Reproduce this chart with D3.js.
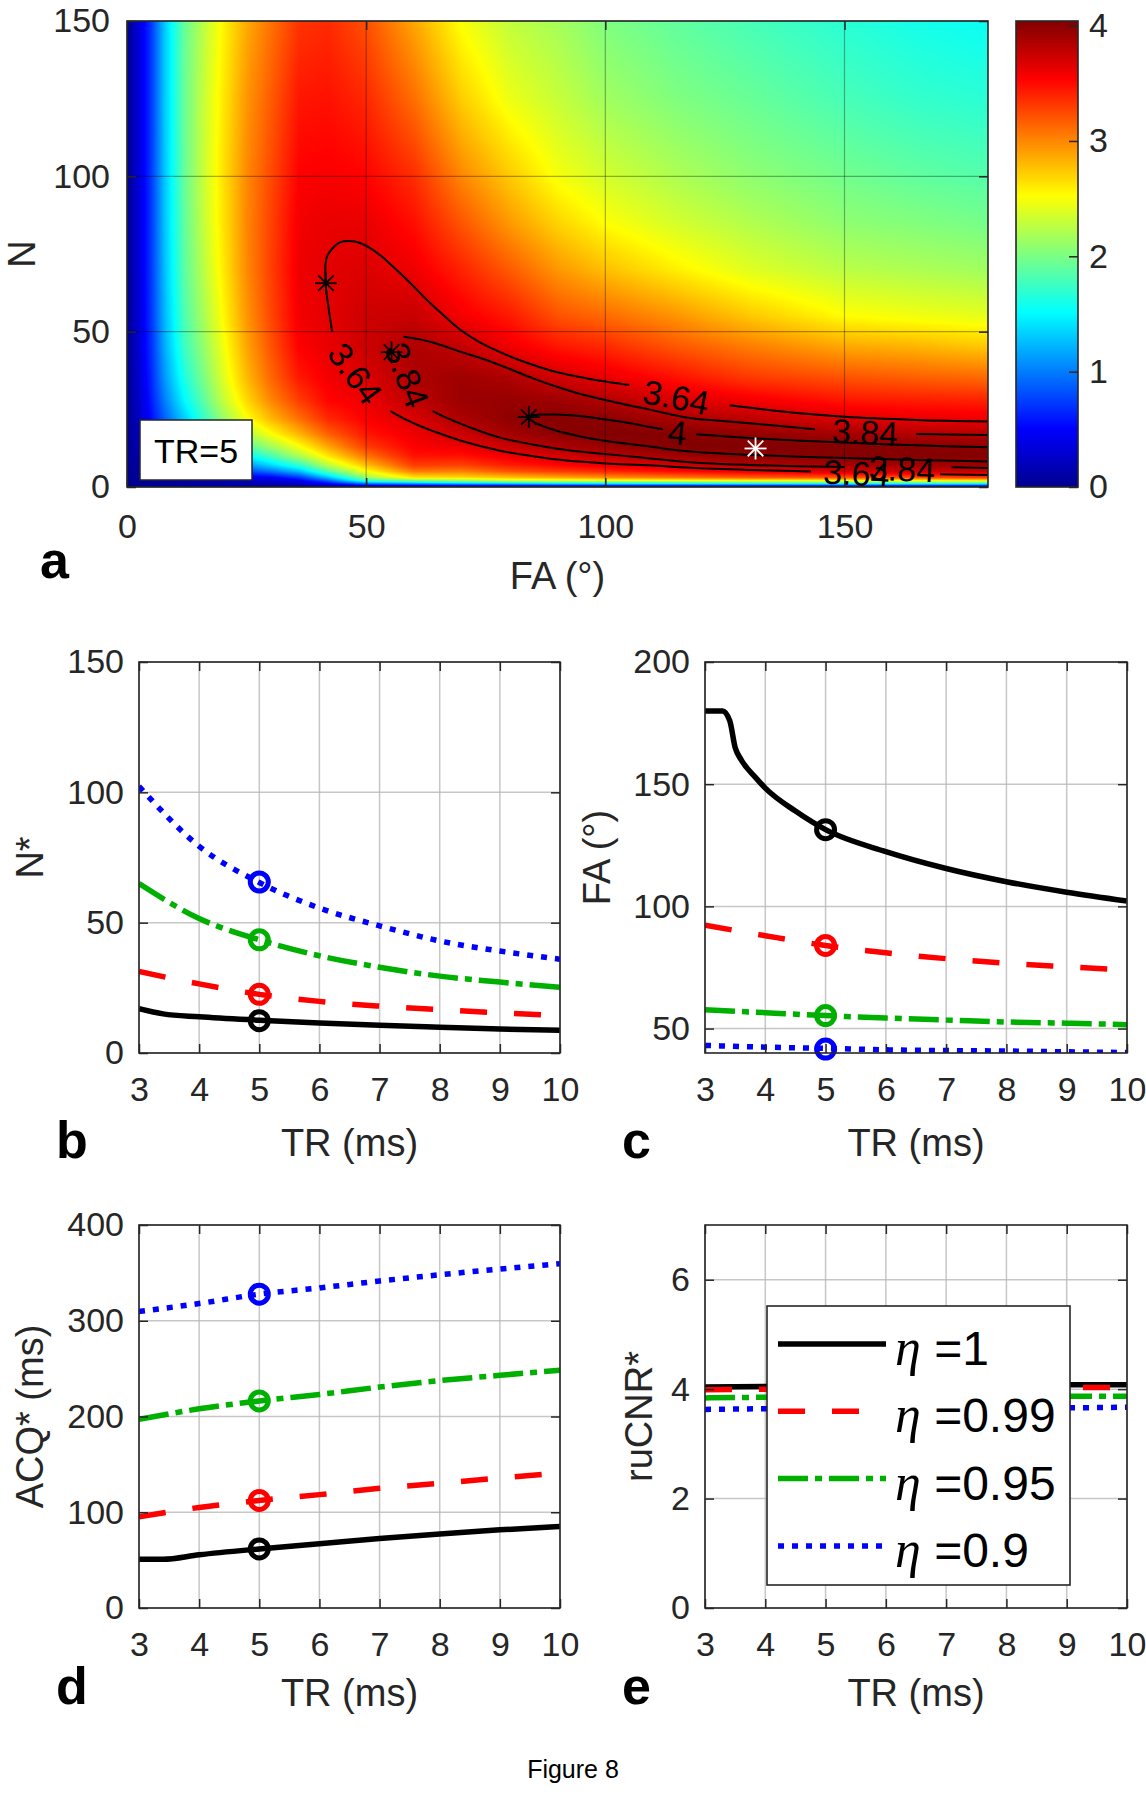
<!DOCTYPE html>
<html>
<head>
<meta charset="utf-8">
<script src="https://cdn.jsdelivr.net/npm/d3@7/dist/d3.min.js"></script>
<style>
html,body{margin:0;padding:0;background:#fff;}
svg{display:block;}
</style>
</head>
<body>
<svg id="fig" width="1146" height="1800" xmlns="http://www.w3.org/2000/svg"></svg>
<script>
// ================= DATA =================
const faGrid = [0,2,5,8,12,16,20,25,30,36,42,50,60,70,80,90,100,115,130,150,165,180];
const nGrid  = [0,1,2,3,5,7,10,13,17,22,28,35,45,55,70,85,100,125,150];
// one row per FA value of faGrid, entries follow nGrid
const cnrMap = [
  [0,0,0,0,0,0,0,0,0,0,0,0,0,0,0,0,0,0,0],
  [0,0.01,0.02,0.03,0.05,0.07,0.1,0.13,0.16,0.19,0.21,0.23,0.25,0.26,0.27,0.27,0.27,0.27,0.27],
  [0,0.03,0.06,0.09,0.15,0.22,0.3,0.38,0.46,0.54,0.6,0.64,0.68,0.7,0.71,0.71,0.71,0.71,0.71],
  [0,0.05,0.1,0.15,0.25,0.36,0.5,0.62,0.76,0.9,1.02,1.12,1.2,1.25,1.28,1.3,1.31,1.32,1.32],
  [0,0.07,0.14,0.2,0.38,0.55,0.75,0.93,1.12,1.32,1.5,1.63,1.75,1.82,1.88,1.9,1.92,1.93,1.92],
  [0,0.09,0.18,0.24,0.48,0.72,0.98,1.22,1.5,1.72,1.88,2.0,2.1,2.18,2.25,2.29,2.31,2.3,2.26],
  [0,0.11,0.22,0.3,0.6,0.9,1.25,1.55,1.85,2.1,2.28,2.38,2.46,2.53,2.59,2.62,2.63,2.6,2.55],
  [0,0.13,0.26,0.4,0.78,1.1,1.5,1.85,2.2,2.5,2.68,2.8,2.88,2.94,2.99,3.0,2.99,2.94,2.86],
  [0,0.15,0.3,0.45,0.95,1.35,1.8,2.15,2.5,2.8,3.0,3.12,3.2,3.25,3.28,3.27,3.24,3.17,3.08],
  [0,0.2,0.42,0.7,1.25,1.7,2.2,2.5,2.82,3.1,3.3,3.44,3.54,3.58,3.6,3.58,3.54,3.45,3.33],
  [0,0.45,0.85,1.25,1.85,2.25,2.62,2.88,3.15,3.38,3.52,3.58,3.62,3.64,3.645,3.62,3.56,3.47,3.37],
  [0,0.9,1.7,2.1,2.5,2.78,3.08,3.3,3.45,3.55,3.6,3.67,3.74,3.73,3.67,3.62,3.53,3.38,3.22],
  [0,1.05,1.95,2.6,3.05,3.3,3.47,3.55,3.6,3.68,3.8,3.86,3.86,3.76,3.6,3.48,3.36,3.1,2.88],
  [0,1.15,2.1,2.65,3.03,3.28,3.47,3.6,3.74,3.87,3.93,3.92,3.78,3.58,3.4,3.2,3.0,2.72,2.5],
  [0,1.2,2.3,2.75,3.2,3.42,3.6,3.75,3.9,3.98,3.95,3.87,3.6,3.44,3.18,2.93,2.74,2.45,2.28],
  [0,1.3,2.35,2.85,3.3,3.52,3.7,3.86,3.99,4.01,3.92,3.72,3.46,3.22,2.94,2.7,2.49,2.3,2.17],
  [0,1.35,2.4,2.95,3.38,3.6,3.8,3.94,4.03,3.99,3.84,3.63,3.38,3.12,2.78,2.52,2.35,2.15,2.02],
  [0,1.4,2.45,3.05,3.5,3.72,3.92,4.03,4.02,3.87,3.68,3.48,3.2,2.95,2.58,2.35,2.2,2.02,1.9],
  [0,1.45,2.5,3.15,3.6,3.84,3.99,4.04,3.97,3.8,3.58,3.32,3.05,2.75,2.4,2.22,2.08,1.93,1.8],
  [0,1.5,2.5,3.2,3.7,3.88,4.02,4.02,3.9,3.67,3.45,3.22,2.88,2.53,2.25,2.08,1.97,1.8,1.68],
  [0,1.5,2.5,3.22,3.74,3.9,4.02,4.01,3.84,3.62,3.42,3.17,2.83,2.47,2.2,2.03,1.9,1.72,1.6],
  [0,1.5,2.55,3.3,3.75,3.92,4.02,3.99,3.83,3.6,3.4,3.13,2.75,2.42,2.15,1.98,1.85,1.68,1.55]
];
const cnrMax = 4.04;
const mapXTicks = [0,50,100,150];
const mapYTicks = [0,50,100,150];
const colorbarTicks = [0,1,2,3,4];

// contour lines (FA, N), split where inline labels sit
const c364Loop  = [[42.9,49.9],[42.2,57],[41.5,66],[41.75,73.9],[43.1,77.1],[44.6,78.8],[46.6,79.2],[48.6,78.6],[50.5,77.2],[53,74.5],[55.7,70.8],[59,66],[62.7,60.2],[66,55.5],[69.6,50.7],[73.5,46.8],[78,43.4],[83,40.3],[88.4,37.6],[96,35],[105,32.8]];
const c364Right = [[126,26.3],[137,24.3],[150,22.6],[165,21.6],[180,21.1]];
const c364Lower = [[55.1,24.4],[58,21.9],[61,19.8],[64,18],[70,14.8],[78,11.7],[85,9.9],[91.9,8.5],[100,7.6],[109.3,7.0],[117.7,6.2],[130,5.5],[143,5.0]];
const c364LowerTail = [[170,4.1],[180,3.9]];
const c384Upper = [[57.8,48.4],[61,47.6],[64,46.5],[70,43.4],[74.5,41.2],[80,38],[85,34.9],[90,32.2],[95.4,29.7],[102,27.3],[109.3,24.9],[117.7,22.2],[125,21.2],[133,20.1],[143.8,18.6]];
const c384UpperTail = [[165,17.1],[172,16.9],[180,16.7]];
const c384Lower = [[63.9,24.4],[66,22.8],[68,21.5],[72,19],[78,15.9],[85,13.6],[91.9,11.9],[100,10.6],[107,9.6],[117.7,8.0],[130,7.1],[140,6.7],[150,6.4]];
const c384LowerTail = [[172.4,6.35],[180,6.1]];
const c4Loop = [[112,18.6],[109.3,19.3],[105,20.6],[99,22],[94,22.9],[90,23.3],[86.5,23.3],[84.5,23],[83.5,22.5],[84.5,21.4],[86,20.2],[90,18],[95,16.2],[100,14.9],[109.3,13],[117.7,11.4],[131,10.3],[148,9.4],[165,8.7],[180,8.2]];
const c4Tail = [[119,17],[130,15.8],[140,15],[149.8,14.3],[165,13.4],[180,12.8]];
const contourLabelText = ['3.64','3.64','3.64','3.84','3.84','3.84','4'];
const contourLabelFA   = [114.8, 47.7, 152.5, 58.5, 154.3, 162, 115];
const contourLabelN    = [28.9, 36.5, 4.4, 36, 17.6, 5.8, 17.5];
const contourLabelAngle= [11, 54, 3, 69, 3, 2, 6];

// optimum points at TR = 5 ms : order eta = 1, 0.99, 0.95, 0.9
const etaLabels = ['1','0.99','0.95','0.9'];
const optFA  = [131.4, 84, 55.3, 41.6];
const optN   = [12.4, 22.5, 43.4, 65.6];
const optACQ = [61.7, 112.3, 216.2, 327.8];
const optCNR = [4.06, 4.01, 3.85, 3.64];
const optTR = 5;

// Panels b-e vs TR
const trTicks = [3,4,5,6,7,8,9,10];
const trPts = [3,4,5,6,7,8,9,10];
const trKinkN   = [3,3.4,4,5,6,7,8,9,10];
const trKinkFA  = [3,3.29,3.41,3.5,3.6,3.84,4,4.5,5,6,7,8,9,10];

const nBlack = [17,15,13.9,12.6,11.5,10.6,9.9,9.2,8.7];
const nRed   = [31.3,26.5,22.5,19.8,18,16.6,15.4,14.3];
const nGreen = [65,51.6,43.4,37.3,32.9,29.5,27.2,25.2];
const nBlue  = [102.3,79.3,65.4,55.6,48.8,43,39.1,36];

const faBlack = [180,180,176,165,160,152.7,148.4,139,131.4,122.4,115.5,110.1,105.8,102.2];
const faRed   = [92.3,88,84,81,78.6,76.7,75.3,74];
const faGreen = [57.7,56.5,55.3,54.3,53.5,52.7,52.2,51.6];
const faBlue  = [43.1,42.4,41.9,41.3,41,40.8,40.5,40.2];

const acqBlack = [50.9,50.9,55.6,61.7,67.1,72.6,77.3,81.6,85.2];
const acqRed   = [95.3,105,112.3,118.4,125,130.3,135.7,141.2];
const acqGreen = [197,208,216.2,223,230.7,237.5,243,248.4];
const acqBlue  = [309.7,318,327.8,334.3,341.5,348,354,359.6];

const cnrBlack = [4.04,4.05,4.06,4.06,4.07,4.07,4.08,4.08];
const cnrRed   = [3.99,4.0,4.01,4.01,4.02,4.02,4.03,4.03];
const cnrGreen = [3.84,3.85,3.85,3.86,3.86,3.86,3.87,3.87];
const cnrBlue  = [3.63,3.64,3.64,3.65,3.65,3.66,3.66,3.67];

const nTicks = [0,50,100,150];
const faTicks = [50,100,150,200];
const acqTicks = [0,100,200,300,400];
const cnrTicks = [0,2,4,6];

// ================= LAYOUT / STYLE =================
const FONT = "'Liberation Sans', Arial, Helvetica, sans-serif";
const TXT = '#262626';
const PA  = {l:127, r:988, t:21, b:487};
const PCB = {l:1016, r:1078, t:21, b:487};
const PB  = {l:139, r:560, t:662, b:1053};
const PC  = {l:705, r:1127, t:662, b:1053};
const PD  = {l:139, r:560, t:1225, b:1608};
const PE  = {l:705, r:1127, t:1225, b:1608};
const seriesStyle = [
  {color:'#000000', dash:null},
  {color:'#ff0000', dash:'27,27'},
  {color:'#00b000', dash:'30,7,7,7'},
  {color:'#0000ff', dash:'6,8'}
];
const LW = 5.5;

const svg = d3.select('#fig');
svg.append('rect').attr('width',1146).attr('height',1800).attr('fill','#fff');
const defs = svg.append('defs');

function addClip(id, box){
  defs.append('clipPath').attr('id',id).append('rect')
    .attr('x',box.l).attr('y',box.t).attr('width',box.r-box.l).attr('height',box.b-box.t);
}

function styleAxis(g){
  g.select('.domain').remove();
  g.attr('font-family',FONT).attr('font-size',34).attr('color',TXT);
  g.selectAll('.tick line').attr('stroke-width',1.5);
}

function axesFrame(box, x, y, xt, yt, padX, padY){
  const g = svg.append('g');
  g.append('g').attr('transform',`translate(0,${box.b})`)
    .call(d3.axisBottom(x).tickValues(xt).tickSize(-9).tickSizeOuter(0).tickPadding(padX).tickFormat(d3.format('d')))
    .call(styleAxis);
  g.append('g').attr('transform',`translate(0,${box.t})`)
    .call(d3.axisTop(x).tickValues(xt).tickSize(-9).tickSizeOuter(0).tickFormat(''))
    .call(styleAxis);
  g.append('g').attr('transform',`translate(${box.l},0)`)
    .call(d3.axisLeft(y).tickValues(yt).tickSize(-9).tickSizeOuter(0).tickPadding(padY).tickFormat(d3.format('d')))
    .call(styleAxis);
  g.append('g').attr('transform',`translate(${box.r},0)`)
    .call(d3.axisRight(y).tickValues(yt).tickSize(-9).tickSizeOuter(0).tickFormat(''))
    .call(styleAxis);
  g.append('rect').attr('x',box.l).attr('y',box.t).attr('width',box.r-box.l).attr('height',box.b-box.t)
    .attr('fill','none').attr('stroke',TXT).attr('stroke-width',1.6);
  return g;
}

function grid(box, x, y, xt, yt, color, op, w){
  const g = svg.append('g').attr('stroke',color).attr('stroke-opacity',op).attr('stroke-width',w);
  xt.forEach(t => g.append('line').attr('x1',x(t)).attr('x2',x(t)).attr('y1',box.t).attr('y2',box.b));
  yt.forEach(t => g.append('line').attr('y1',y(t)).attr('y2',y(t)).attr('x1',box.l).attr('x2',box.r));
}

function yLabel(bx, cy, s){
  svg.append('text').attr('transform',`translate(${bx},${cy}) rotate(-90)`)
    .attr('text-anchor','middle').attr('font-family',FONT).attr('font-size',38).attr('fill',TXT).text(s);
}
function xLabel(cx, by, s){
  svg.append('text').attr('x',cx).attr('y',by).attr('text-anchor','middle')
    .attr('font-family',FONT).attr('font-size',38).attr('fill',TXT).text(s);
}
function letter(x, by, s){
  svg.append('text').attr('x',x).attr('y',by).attr('font-family',FONT).attr('font-weight','bold')
    .attr('font-size',52).attr('fill','#000').text(s);
}

// ================= PANEL A =================
const xA = d3.scaleLinear().domain([0,180]).range([PA.l,PA.r]);
const yA = d3.scaleLinear().domain([0,150]).range([PA.b,PA.t]);
const jetFr = [0,0.125,0.375,0.625,0.875,1];
const jetCol = ['#00008f','#0000ff','#00ffff','#ffff00','#ff0000','#800000'];
const jet = d3.scaleLinear().domain(jetFr.map(f=>f*cnrMax)).range(jetCol).clamp(true);
const LUTN = 1024;
const lut = d3.range(LUTN).map(i => d3.rgb(jet(i/(LUTN-1)*cnrMax)));

(function heat(){
  const W = PA.r-PA.l, H = PA.b-PA.t;
  const cv = document.createElement('canvas'); cv.width=W; cv.height=H;
  const ctx = cv.getContext('2d'); const img = ctx.createImageData(W,H);
  const locate = (gr, v) => { let k = d3.bisectRight(gr, v)-1; k = Math.max(0, Math.min(gr.length-2, k));
    return [k, Math.max(0,Math.min(1,(v-gr[k])/(gr[k+1]-gr[k])))]; };
  const ci = d3.range(W).map(i => locate(faGrid, xA.invert(PA.l+i+0.5)));
  const ri = d3.range(H).map(j => locate(nGrid, yA.invert(PA.t+j+0.5)));
  for (let j=0;j<H;j++){
    const [b,tb] = ri[j];
    for (let i=0;i<W;i++){
      const [a,ta] = ci[i];
      const v = (1-ta)*(1-tb)*cnrMap[a][b] + ta*(1-tb)*cnrMap[a+1][b] + (1-ta)*tb*cnrMap[a][b+1] + ta*tb*cnrMap[a+1][b+1];
      const c = lut[Math.round(Math.max(0,Math.min(1,v/cnrMax))*(LUTN-1))];
      const p = (j*W+i)*4; img.data[p]=c.r; img.data[p+1]=c.g; img.data[p+2]=c.b; img.data[p+3]=255;
    }
  }
  ctx.putImageData(img,0,0);
  svg.append('image').attr('x',PA.l).attr('y',PA.t).attr('width',W).attr('height',H)
    .attr('preserveAspectRatio','none').attr('href',cv.toDataURL());
})();

grid(PA, xA, yA, mapXTicks, mapYTicks, '#000', 0.32, 1.2);
addClip('clipA', PA);

const cLine = d3.line().x(d=>xA(d[0])).y(d=>yA(d[1])).curve(d3.curveCatmullRom.alpha(0.5));
const gCont = svg.append('g').attr('clip-path','url(#clipA)').attr('fill','none').attr('stroke','#000').attr('stroke-width',2);
[c364Loop,c364Right,c364Lower,c364LowerTail,c384Upper,c384UpperTail,c384Lower,c384LowerTail,c4Loop,c4Tail]
  .forEach(pts => gCont.append('path').attr('d', cLine(pts)));
contourLabelText.forEach((t,i) => {
  svg.append('text').attr('transform',`translate(${xA(contourLabelFA[i])},${yA(contourLabelN[i])}) rotate(${contourLabelAngle[i]})`)
    .attr('text-anchor','middle').attr('dominant-baseline','central')
    .attr('font-family',FONT).attr('font-size',34).attr('fill','#000').text(t);
});

// stars (optimum points)
function star(cx, cy, color){
  const r = 11, g = svg.append('g').attr('stroke',color).attr('stroke-width',1.8);
  [0,45,90,135].forEach(a => { const rad=a*Math.PI/180;
    g.append('line').attr('x1',cx-r*Math.cos(rad)).attr('y1',cy-r*Math.sin(rad))
      .attr('x2',cx+r*Math.cos(rad)).attr('y2',cy+r*Math.sin(rad)); });
}
optFA.forEach((fa,i) => star(xA(fa), yA(optN[i]), i===0 ? '#ffffff' : '#000000'));

// TR box
svg.append('rect').attr('x',140).attr('y',420).attr('width',112).attr('height',60)
  .attr('fill','#fff').attr('stroke',TXT).attr('stroke-width',1.5);
svg.append('text').attr('x',196).attr('y',451).attr('text-anchor','middle').attr('dominant-baseline','central')
  .attr('font-family',FONT).attr('font-size',34).attr('fill','#000').text('TR=5');

axesFrame(PA, xA, yA, mapXTicks, mapYTicks, 27, 17);
yLabel(35, (PA.t+PA.b)/2, 'N');
xLabel((PA.l+PA.r)/2, 589, 'FA (°)');
letter(40, 578, 'a');

// colorbar
const yCB = d3.scaleLinear().domain([0,cnrMax]).range([PCB.b,PCB.t]);
const grad = defs.append('linearGradient').attr('id','jetGrad').attr('x1',0).attr('y1',1).attr('x2',0).attr('y2',0);
jetFr.forEach((f,i) => grad.append('stop').attr('offset',f).attr('stop-color',jetCol[i]));
svg.append('rect').attr('x',PCB.l).attr('y',PCB.t).attr('width',PCB.r-PCB.l).attr('height',PCB.b-PCB.t)
  .attr('fill','url(#jetGrad)');
svg.append('g').attr('transform',`translate(${PCB.r},0)`)
  .call(d3.axisRight(yCB).tickValues(colorbarTicks).tickSize(-9).tickSizeOuter(0).tickPadding(11).tickFormat(d3.format('d')))
  .call(styleAxis);
svg.append('rect').attr('x',PCB.l).attr('y',PCB.t).attr('width',PCB.r-PCB.l).attr('height',PCB.b-PCB.t)
  .attr('fill','none').attr('stroke',TXT).attr('stroke-width',1.6);

// ================= LINE PANELS =================
function linePanel(id, box, yDom, yt, series, optVals){
  const x = d3.scaleLinear().domain([3,10]).range([box.l,box.r]);
  const y = d3.scaleLinear().domain(yDom).range([box.b,box.t]);
  grid(box, x, y, trTicks, yt, '#b4b4b4', 0.75, 1.5);
  addClip(id, box);
  const line = d3.line().x(d=>x(d[0])).y(d=>y(d[1])).curve(d3.curveMonotoneX);
  const g = svg.append('g').attr('clip-path',`url(#${id})`);
  series.forEach((s,i) => {
    const pts = s.tr.map((t,k)=>[t,s.v[k]]);
    g.append('path').attr('d',line(pts)).attr('fill','none')
      .attr('stroke',seriesStyle[i].color).attr('stroke-width',LW)
      .attr('stroke-dasharray',seriesStyle[i].dash).attr('stroke-linecap','butt');
  });
  optVals.forEach((v,i) => {
    svg.append('circle').attr('cx',x(optTR)).attr('cy',y(v)).attr('r',9)
      .attr('fill','none').attr('stroke',seriesStyle[i].color).attr('stroke-width',5);
  });
  axesFrame(box, x, y, trTicks, yt, 23.5, 15);
  return {x,y};
}

linePanel('clipB', PB, [0,150], nTicks,
  [{tr:trKinkN, v:nBlack},{tr:trPts, v:nRed},{tr:trPts, v:nGreen},{tr:trPts, v:nBlue}], optN);
yLabel(43, (PB.t+PB.b)/2, 'N*');
xLabel((PB.l+PB.r)/2, 1156, 'TR (ms)');
letter(56, 1158, 'b');

linePanel('clipC', PC, [40,200], faTicks,
  [{tr:trKinkFA, v:faBlack},{tr:trPts, v:faRed},{tr:trPts, v:faGreen},{tr:trPts, v:faBlue}], optFA);
yLabel(610, (PC.t+PC.b)/2, 'FA (°)');
xLabel((PC.l+PC.r)/2, 1156, 'TR (ms)');
letter(622, 1158, 'c');

linePanel('clipD', PD, [0,400], acqTicks,
  [{tr:trKinkN, v:acqBlack},{tr:trPts, v:acqRed},{tr:trPts, v:acqGreen},{tr:trPts, v:acqBlue}], optACQ);
yLabel(43, (PD.t+PD.b)/2, 'ACQ* (ms)');
xLabel((PD.l+PD.r)/2, 1706, 'TR (ms)');
letter(56, 1704, 'd');

linePanel('clipE', PE, [0,7], cnrTicks,
  [{tr:trPts, v:cnrBlack},{tr:trPts, v:cnrRed},{tr:trPts, v:cnrGreen},{tr:trPts, v:cnrBlue}], optCNR);
yLabel(652, (PE.t+PE.b)/2, 'ruCNR*');
xLabel((PE.l+PE.r)/2, 1706, 'TR (ms)');
letter(622, 1704, 'e');

// legend
const leg = svg.append('g');
leg.append('rect').attr('x',767).attr('y',1306).attr('width',303).attr('height',279)
  .attr('fill','#fff').attr('stroke',TXT).attr('stroke-width',1.6);
etaLabels.forEach((lab,i) => {
  const yy = 1344 + i*67.3;
  leg.append('line').attr('x1',778).attr('x2',886).attr('y1',yy).attr('y2',yy)
    .attr('stroke',seriesStyle[i].color).attr('stroke-width',LW).attr('stroke-dasharray',seriesStyle[i].dash);
  const t = leg.append('text').attr('x',895).attr('y',yy+21).attr('fill','#000');
  t.append('tspan').attr('font-family',"'Liberation Serif','Times New Roman',serif").attr('font-style','italic').attr('font-size',52).text('η');
  t.append('tspan').attr('font-family',FONT).attr('font-size',48).text(' =' + lab);
});

// caption
svg.append('text').attr('x',573).attr('y',1778).attr('text-anchor','middle')
  .attr('font-family',FONT).attr('font-size',25).attr('fill','#000').text('Figure 8');
</script>
</body>
</html>
